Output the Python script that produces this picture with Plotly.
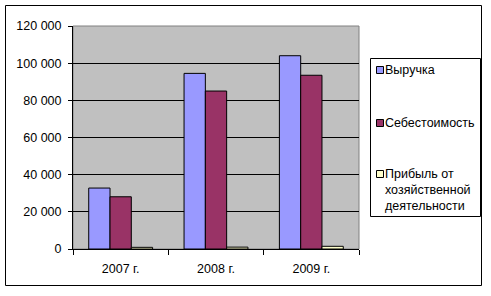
import plotly.graph_objects as go

categories = ["2007 г.", "2008 г.", "2009 г."]
revenue = [32800, 94500, 104000]
cost = [28100, 85000, 93500]
profit = [900, 1000, 1450]
series_names = ["Выручка", "Себестоимость", "Прибыль от<br>хозяйственной<br>деятельности"]
colors = ["#9999FF", "#993366", "#FFFFCC"]

W, H = 491, 296
L, R, T, B = 73, 359, 26, 249  # plot area in pixels

def px(x):
    return (x - L) / (R - L)

def py(y):
    return (B - y) / (B - T)

fig = go.Figure()
for name, vals, col in zip(series_names, [revenue, cost, profit], colors):
    fig.add_trace(go.Bar(x=categories, y=vals, name=name.replace("<br>", " "),
                         marker=dict(color=col, line=dict(color="black", width=1)),
                         showlegend=False))

font = dict(family="Liberation Sans, Arial, sans-serif", size=12.5, color="black")

shapes = [
    dict(type="rect", xref="paper", yref="paper", x0=px(5.5), x1=px(481.5), y0=py(285.5), y1=py(5.5),
         line=dict(color="black", width=1), layer="below"),
    dict(type="rect", xref="paper", yref="paper", x0=0, x1=1, y0=0, y1=1,
         line=dict(color="#808080", width=1), layer="below"),
    dict(type="rect", xref="paper", yref="paper", x0=px(370.5), x1=px(480.5), y0=py(216.5), y1=py(58.5),
         line=dict(color="black", width=1), fillcolor="white"),
]
annotations = []
legend_rows = [(70, 0), (123, 1), (174, 2)]
for yc, i in legend_rows:
    shapes.append(dict(type="rect", xref="paper", yref="paper", x0=px(376.5), x1=px(383.5),
                       y0=py(yc + 3.5), y1=py(yc - 3.5), fillcolor=colors[i],
                       line=dict(color="black", width=1)))
    for k, line in enumerate(series_names[i].split("<br>")):
        annotations.append(dict(xref="paper", yref="paper", x=px(384), y=py(yc + 16 * k),
                                xanchor="left", yanchor="middle", text=line, showarrow=False,
                                align="left", font=font, xshift=-1))

fig.update_layout(
    width=W, height=H,
    margin=dict(l=L, r=W - R, t=T, b=H - B, pad=0),
    paper_bgcolor="white", plot_bgcolor="#C0C0C0",
    barmode="group", bargap=0.33, bargroupgap=0,
    separators=", ",
    font=font,
    shapes=shapes, annotations=annotations,
    showlegend=False,
)
fig.update_xaxes(showline=True, linecolor="black", linewidth=1, ticks="outside", ticklen=5,
                 tickcolor="black", tickson="boundaries", showgrid=False, tickfont=font,
                 ticklabelstandoff=8, fixedrange=True)
fig.update_yaxes(range=[0, 120000], dtick=20000, tickformat=",d", showline=True, linecolor="black",
                 linewidth=1, ticks="outside", ticklen=4, tickcolor="black", showgrid=True,
                 gridcolor="black", gridwidth=1, zeroline=False, tickfont=font,
                 ticklabelstandoff=4, fixedrange=True)

fig.write_html("out.html")
